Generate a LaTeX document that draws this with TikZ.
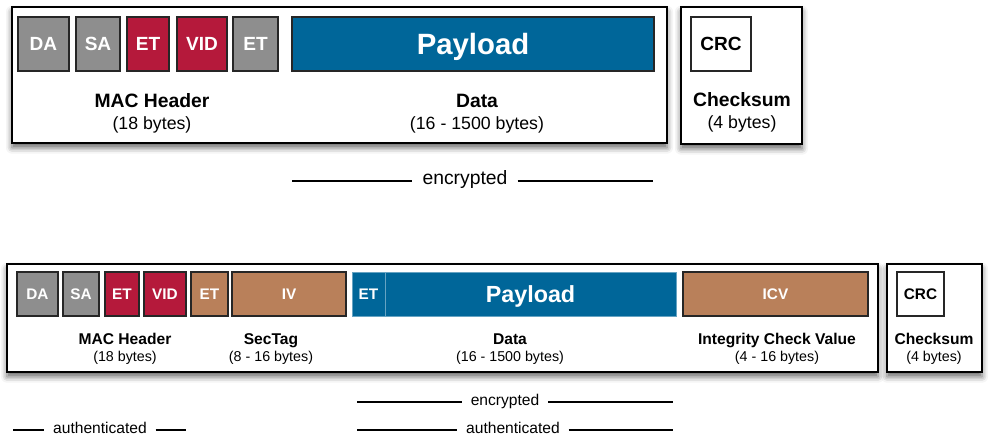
\documentclass[tikz,border=0pt]{standalone}
\usepackage{fontspec}
\setmainfont{Liberation Sans}
\usetikzlibrary{shadows.blur}
\definecolor{fgray}{RGB}{142,142,142}
\definecolor{fred}{RGB}{181,25,59}
\definecolor{fblue}{RGB}{0,102,153}
\definecolor{fbrown}{RGB}{185,128,90}
\newcommand\fld[7]{\node[#6, minimum width={(#4-#2)*0.75pt}, minimum height={(#5-#3)*0.75pt}] (#1) at ({(#2+#4)/2},{(#3+#5)/2}) {#7};}
\begin{document}
\begin{tikzpicture}[x=0.75pt,y=-0.75pt,
  frame/.style={draw=black, line width=1.1pt, fill=white, inner sep=0pt, outer sep=0pt,
    blur shadow={shadow xshift=0pt, shadow yshift=-3.5pt, shadow blur radius=4.5pt, shadow opacity=60}},
  fieldbox/.style={draw=black!85, line width=0.8pt, inner sep=0pt, outer sep=0pt, text=white},
  bigf/.style={fieldbox, font=\fontsize{14.3}{16}\selectfont\bfseries},
  smallf/.style={fieldbox, font=\fontsize{11.5}{13}\selectfont\bfseries},
  crcbox/.style={fill=white, text=black},
  lblA/.style={anchor=base, inner sep=0pt, font=\fontsize{14.5}{17}\selectfont\bfseries},
  szA/.style={anchor=base, inner sep=0pt, font=\fontsize{13.3}{16}\selectfont},
  lblB/.style={anchor=base, inner sep=0pt, font=\fontsize{11.7}{14}\selectfont\bfseries},
  szB/.style={anchor=base, inner sep=0pt, font=\fontsize{10.7}{13}\selectfont},
  spanA/.style={inner ysep=0pt, inner xsep=7.5pt, text height=1ex, text depth=0pt, font=\fontsize{14.5}{17}\selectfont},
  spanB/.style={inner ysep=0pt, inner xsep=6.4pt, text height=1ex, text depth=0pt, font=\fontsize{11.7}{14}\selectfont},
  spanline/.style={line width=0.8pt}
]
\useasboundingbox (0,0) rectangle (989,439);

% ---------- top frame ----------
\fld{top}{12}{7}{667}{143}{frame}{}
\fld{topck}{681}{7}{802}{144}{frame}{}

\fld{tDA}{18}{17}{69}{71}{bigf, fill=fgray}{DA}
\fld{tSA}{76}{17}{120}{71}{bigf, fill=fgray}{SA}
\fld{tET}{127}{17}{169}{71}{bigf, fill=fred}{ET}
\fld{tVID}{177}{17}{227}{71}{bigf, fill=fred}{VID}
\fld{tET2}{233}{17}{278}{71}{bigf, fill=fgray}{ET}
\fld{tPay}{292}{17}{654}{71}{fieldbox, fill=fblue, text depth=0pt, font=\fontsize{22}{26}\selectfont\bfseries}{Payload}
\fld{tCRC}{691}{17}{751}{71}{bigf, crcbox}{CRC}

\node[lblA] (tMac) at (152,107) {MAC Header};
\node[szA] (tMacS) at (152,129) {(18 bytes)};
\node[lblA] (tData) at (477,107) {Data};
\node[szA] (tDataS) at (477,129) {(16 - 1500 bytes)};
\node[lblA] (tCk) at (742,106) {Checksum};
\node[szA] (tCkS) at (742,128) {(4 bytes)};

\node[spanA] (tEnc) at (465,181) {encrypted};
\coordinate (tEncL) at (292,181);
\coordinate (tEncR) at (653,181);
\draw[spanline] (tEncL) -- (tEnc.west);
\draw[spanline] (tEnc.east) -- (tEncR);

% ---------- bottom frame ----------
\fld{bot}{7}{264}{878}{372}{frame}{}
\fld{botck}{887}{264}{982}{372}{frame}{}

\fld{bDA}{17}{272}{58}{316}{smallf, fill=fgray}{DA}
\fld{bSA}{63}{272}{99}{316}{smallf, fill=fgray}{SA}
\fld{bET}{105}{272}{139}{316}{smallf, fill=fred}{ET}
\fld{bVID}{144}{272}{186}{316}{smallf, fill=fred}{VID}
\fld{bET2}{191}{272}{228}{316}{smallf, fill=fbrown}{ET}
\fld{bIV}{232}{272}{346}{316}{smallf, fill=fbrown}{IV}
\fld{bET3}{352}{272}{385}{316}{smallf, fill=fblue, draw=fblue!60!white, line width=0.5pt}{ET}
\fld{bPay}{385}{272}{676}{316}{smallf, fill=fblue, draw=fblue!60!white, line width=0.5pt, text depth=0pt, font=\fontsize{17.5}{20}\selectfont\bfseries}{Payload}
\fld{bICV}{683}{272}{868}{316}{smallf, fill=fbrown}{ICV}
\fld{bCRC}{897}{272}{944}{316}{smallf, crcbox}{CRC}

\node[lblB] (bMac) at (125,344) {MAC Header};
\node[szB] (bMacS) at (125,361) {(18 bytes)};
\node[lblB] (bSec) at (271,344) {SecTag};
\node[szB] (bSecS) at (271,361) {(8 - 16 bytes)};
\node[lblB] (bData) at (510,344) {Data};
\node[szB] (bDataS) at (510,361) {(16 - 1500 bytes)};
\node[lblB] (bIcv) at (777,344) {Integrity Check Value};
\node[szB] (bIcvS) at (777,361) {(4 - 16 bytes)};
\node[lblB] (bCk) at (934,344) {Checksum};
\node[szB] (bCkS) at (934,361) {(4 bytes)};

\node[spanB] (bEnc) at (505,402) {encrypted};
\coordinate (bEncL) at (357,402);
\coordinate (bEncR) at (673,402);
\draw[spanline] (bEncL) -- (bEnc.west);
\draw[spanline] (bEnc.east) -- (bEncR);

\node[spanB] (bAuth) at (513,430) {authenticated};
\coordinate (bAuthL) at (357,430);
\coordinate (bAuthR) at (673,430);
\draw[spanline] (bAuthL) -- (bAuth.west);
\draw[spanline] (bAuth.east) -- (bAuthR);

\node[spanB] (bAuth1) at (100,430) {authenticated};
\coordinate (bAuth1L) at (13,430);
\coordinate (bAuth1R) at (186,430);
\draw[spanline] (bAuth1L) -- (bAuth1.west);
\draw[spanline] (bAuth1.east) -- (bAuth1R);
\end{tikzpicture}
\end{document}
